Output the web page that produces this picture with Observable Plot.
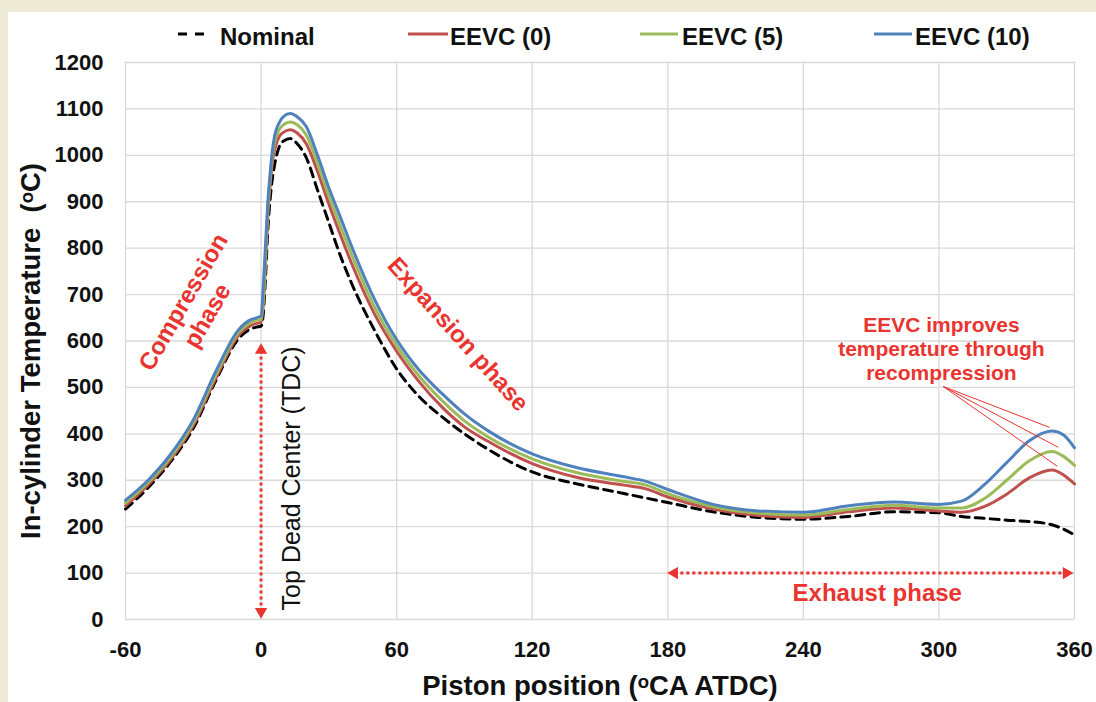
<!DOCTYPE html>
<html><head><meta charset="utf-8">
<script src="https://cdn.jsdelivr.net/npm/d3@7"></script>
<script src="https://cdn.jsdelivr.net/npm/@observablehq/plot@0.6"></script>
<style>
html,body{margin:0;padding:0;background:#EDEBD6;width:1096px;height:702px;overflow:hidden;font-family:"Liberation Sans",Arial,sans-serif;}
#panel{position:absolute;left:8px;top:12px;width:1088px;height:690px;background:#fff;}
#legend{position:relative;height:40px;width:1088px;}
.key{position:absolute;top:19px;}
.lab{position:absolute;top:11px;font-weight:bold;font-size:24px;line-height:28px;color:#111;white-space:nowrap;}
#chart svg{overflow:visible;display:block;}
</style></head><body>
<div id="panel"><div id="legend"></div><div id="chart"></div></div>
<script>
// ---- data ----
const crankAngle = [-60,-50,-40,-30,-20,-10,-5,-2,0,1,2,3,4,5,6,8,10,13,16,20,25,30,35,40,50,60,70,80,90,100,120,140,160,170,180,200,220,240,260,280,300,310,320,330,340,350,355,360];
const nominalTemp = [238,284,340,412,515,605,625,630,632,660,740,840,905,950,980,1018,1031,1036,1025,995,925,855,785,725,625,540,480,437,400,368,318,292,272,262,252,232,220,216,222,232,230,222,218,214,211,204,195,182];
const eevc0Temp   = [245,290,345,418,520,612,632,638,640,680,770,870,935,985,1012,1040,1050,1055,1048,1025,965,895,830,768,660,578,512,458,415,385,336,306,290,282,264,238,224,220,232,240,234,231,243,270,305,322,312,292];
const eevc5Temp   = [251,295,350,424,527,618,639,645,646,690,785,885,950,1000,1028,1055,1066,1072,1066,1044,983,913,849,787,675,590,524,472,428,395,346,316,298,290,271,243,229,225,237,246,240,240,260,300,342,362,352,332];
const eevc10Temp  = [257,300,356,430,535,624,645,650,654,720,810,900,960,1010,1042,1070,1084,1090,1083,1062,1000,930,868,805,692,603,537,487,443,408,357,327,308,298,280,248,234,231,245,253,248,255,290,338,385,406,398,370];
const seriesNames = ["Nominal","EEVC (0)","EEVC (5)","EEVC (10)"];
const seriesValues = [nominalTemp, eevc0Temp, eevc5Temp, eevc10Temp];
const xTicks = [-60,0,60,120,180,240,300,360];
const yTicks = [0,100,200,300,400,500,600,700,800,900,1000,1100,1200];
const xTitle = "Piston position (\u1D52CA ATDC)";
const yTitle = "In-cylinder Temperature  (\u1D52C)";
// annotations (data coordinates)
const phaseLabels = ["Compression\nphase","Expansion phase","Exhaust phase"];
const phaseX = [-29.5, 87.5, 272.7];
const phaseY = [670, 616, 58];
const tdcLabel = "Top Dead Center (TDC)";
const tdcAt = [13.5, 304];
const noteLabel = "EEVC improves\ntemperature through\nrecompression";
const noteAt = [301.1, 584];
const pointerFrom = [301.9, 502];
const pointerToX = [348.9, 352.8, 352.4];
const pointerToY = [414, 371, 330];
const tdcArrowX = 0, tdcArrowY = [17, 580];
const exhaustArrowY = 100, exhaustArrowX = [182.9, 356.4];

// ---- styles ----
const colors = ["#000000","#C0504D","#9BBB59","#4F81BD"];
const red = "#E9342F";

// legend
const legend = document.getElementById("legend");
const keyLeft = [170, 400, 632, 866], keyW = [26, 40, 38, 38], labLeft = [212, 442, 674, 907];
seriesNames.forEach((s, i) => {
  const ns = "http://www.w3.org/2000/svg";
  const svg = document.createElementNS(ns, "svg");
  svg.setAttribute("class", "key");
  svg.setAttribute("width", keyW[i]); svg.setAttribute("height", 6);
  svg.style.left = keyLeft[i] + "px";
  const ln = document.createElementNS(ns, "line");
  ln.setAttribute("x1", 0); ln.setAttribute("x2", keyW[i]);
  ln.setAttribute("y1", 3); ln.setAttribute("y2", 3);
  ln.setAttribute("stroke", colors[i]); ln.setAttribute("stroke-width", 3);
  if (i === 0) ln.setAttribute("stroke-dasharray", "9,8");
  svg.appendChild(ln);
  legend.appendChild(svg);
  const lab = document.createElement("div");
  lab.className = "lab"; lab.style.left = labLeft[i] + "px"; lab.textContent = s;
  legend.appendChild(lab);
});

const rows = seriesNames.flatMap((s, i) => crankAngle.map((a, j) => ({series: s, angle: a, temp: seriesValues[i][j]})));
const lineMarks = seriesNames.map((s, i) => Plot.line(rows.filter(d => d.series === s), {
  x: "angle", y: "temp", stroke: colors[i], strokeWidth: 3, curve: "monotone-x",
  strokeDasharray: i === 0 ? "9,6" : null
}));

const phases = phaseLabels.map((t, i) => ({t, x: phaseX[i], y: phaseY[i]}));
const rot = [-60, 48, 0];
const pointers = pointerToX.map((x, i) => ({x1: pointerFrom[0], y1: pointerFrom[1], x2: x, y2: pointerToY[i]}));

const chart = Plot.plot({
  width: 1088, height: 650,
  marginLeft: 117, marginRight: 22, marginTop: 10, marginBottom: 83,
  style: {fontFamily: "'Liberation Sans', Arial, sans-serif", background: "transparent", color: "#111", overflow: "visible"},
  x: {domain: [-60, 360]},
  y: {domain: [0, 1200]},
  marks: [
    Plot.gridY(yTicks, {stroke: "#d9d9d9", strokeOpacity: 1, strokeWidth: 1.3}),
    Plot.gridX(xTicks, {stroke: "#d9d9d9", strokeOpacity: 1, strokeWidth: 1.3}),
    Plot.axisY(yTicks, {tickSize: 0, tickPadding: 22, fontSize: 22, fontWeight: "bold", label: null, fill: "#111", tickFormat: d => String(d)}),
    Plot.axisX(xTicks, {tickSize: 0, tickPadding: 22, fontSize: 22, fontWeight: "bold", label: null, fill: "#111", tickFormat: d => String(d)}),
    ...lineMarks,
    // TDC dotted double arrow
    Plot.link([0], {x1: () => tdcArrowX, x2: () => tdcArrowX, y1: () => tdcArrowY[0], y2: () => tdcArrowY[1], stroke: red, strokeWidth: 3, strokeDasharray: "3,3"}),
    Plot.dot([0], {x: () => tdcArrowX, y: () => tdcArrowY[1], symbol: "triangle", r: 4.6, fill: red, stroke: "none"}),
    Plot.dot([0], {x: () => tdcArrowX, y: () => tdcArrowY[0], symbol: "triangle", r: 4.6, fill: red, stroke: "none", rotate: 180}),
    // Exhaust dotted double arrow
    Plot.link([0], {x1: () => exhaustArrowX[0], x2: () => exhaustArrowX[1], y1: () => exhaustArrowY, y2: () => exhaustArrowY, stroke: red, strokeWidth: 3, strokeDasharray: "3,3"}),
    Plot.dot([0], {x: () => exhaustArrowX[0], y: () => exhaustArrowY, symbol: "triangle", r: 4.6, fill: red, stroke: "none", rotate: -90}),
    Plot.dot([0], {x: () => exhaustArrowX[1], y: () => exhaustArrowY, symbol: "triangle", r: 4.6, fill: red, stroke: "none", rotate: 90}),
    // pointer lines
    Plot.link(pointers, {x1: "x1", y1: "y1", x2: "x2", y2: "y2", stroke: red, strokeWidth: 1}),
    // phase labels
    ...phases.map((p, i) => Plot.text([p], {x: "x", y: "y", text: "t", rotate: rot[i], fill: red, fontSize: 24, fontWeight: "bold", lineHeight: 1.15})),
    Plot.text([tdcLabel], {x: () => tdcAt[0], y: () => tdcAt[1], text: d => d, rotate: -90, fill: "#111", fontSize: 25}),
    Plot.text([noteLabel], {x: () => noteAt[0], y: () => noteAt[1], text: d => d, fill: red, fontSize: 21, fontWeight: "bold", lineHeight: 1.15}),
    // axis titles
    Plot.text([yTitle], {frameAnchor: "left", textAnchor: "middle", lineAnchor: "middle", text: d => d, rotate: -90, dx: -94, dy: 10, fontSize: 27.5, fontWeight: "bold", fill: "#111"}),
    Plot.text([xTitle], {frameAnchor: "bottom", textAnchor: "middle", lineAnchor: "middle", text: d => d, dy: 67, fontSize: 27.5, fontWeight: "bold", fill: "#111"})
  ]
});
document.getElementById("chart").appendChild(chart);
</script></body></html>
